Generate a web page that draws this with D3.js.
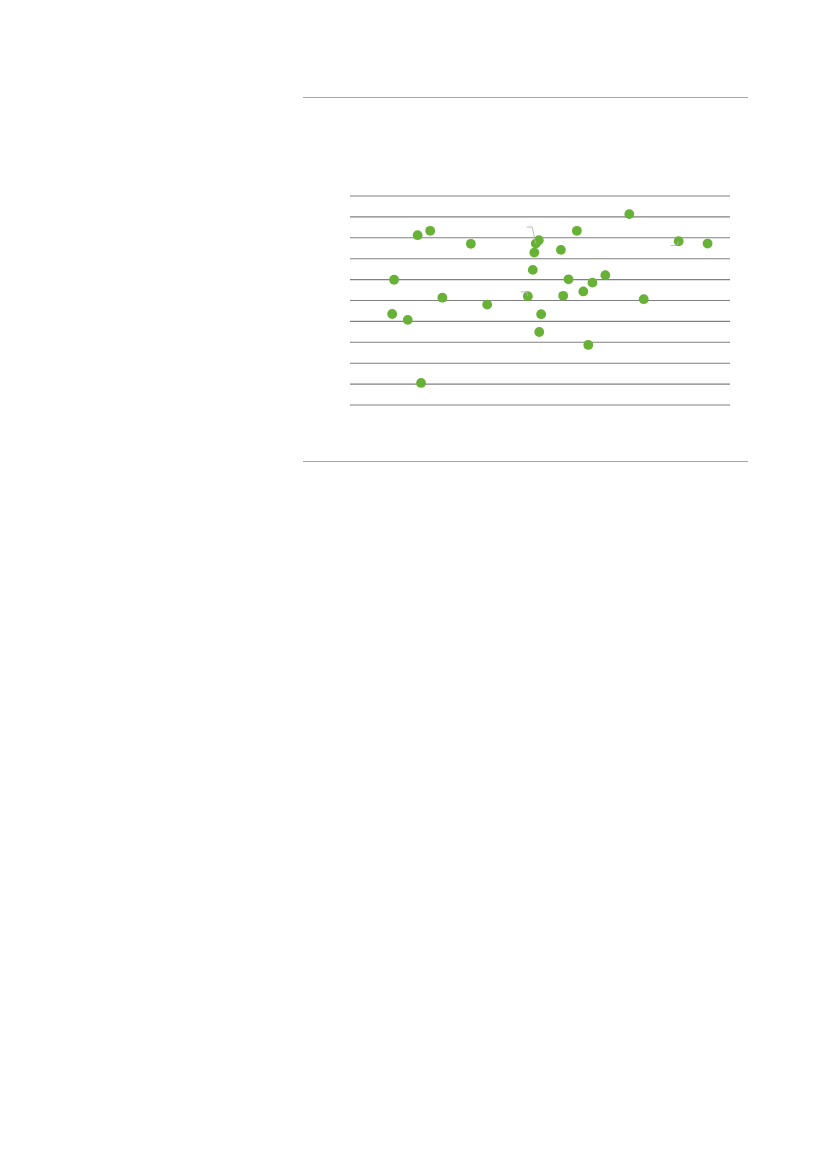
<!DOCTYPE html>
<html>
<head>
<meta charset="utf-8">
<script src="https://cdn.jsdelivr.net/npm/d3@7"></script>
<style>
  html, body { margin: 0; padding: 0; background: #fff; }
  svg { display: block; }
</style>
</head>
<body>
<svg id="chart" width="827" height="1169"></svg>
<script>
  // data (x: 0-100, y: 0-10)
  const xValues = [17.8, 21.1, 31.8, 11.6, 24.3, 36.1, 11.1, 15.2, 18.7, 48.9,
    49.7, 48.5, 48.1, 46.8, 50.3, 49.8, 59.7, 55.5, 73.5, 57.5,
    67.2, 63.8, 61.4, 56.1, 77.3, 62.7, 86.5, 94.1]
  const yValues = [8.10, 8.31, 7.69, 5.97, 5.11, 4.78, 4.33, 4.05, 1.03, 7.70,
    7.86, 7.27, 6.44, 5.18, 4.32, 3.47, 8.31, 7.40, 9.11, 5.99,
    6.19, 5.83, 5.41, 5.20, 5.04, 2.85, 7.81, 7.70]
  const yTicks = [0, 1, 2, 3, 4, 5, 6, 7, 8, 9, 10]
  // points that carry a leader line to a (hidden) label
  const leaderPoints = [9, 13, 26]

  // layout
  const frameLeft = 303
  const frameRight = 748
  const frameTop = 97.5
  const frameBottom = 461.5
  const plotLeft = 350
  const plotRight = 730
  const plotTop = 195.5
  const plotBottom = 404.5
  const dotRadius = 4.9
  const green = '#67b136'

  const svg = d3.select('#chart')

  const x = d3.scaleLinear().domain([0, 100]).range([plotLeft, plotRight])
  const y = d3.scaleLinear().domain([0, 10]).range([plotBottom, plotTop])

  // frame rules
  svg.selectAll('line.rule')
    .data([frameTop, frameBottom])
    .join('line')
    .attr('class', 'rule')
    .attr('x1', frameLeft)
    .attr('x2', frameRight)
    .attr('y1', d => d)
    .attr('y2', d => d)
    .style('stroke', '#a6a6a6')
    .style('stroke-width', 1)

  // horizontal grid from the y axis
  const yAxis = d3.axisLeft(y)
    .tickValues(yTicks)
    .tickSize(-(plotRight - plotLeft))
    .tickFormat('')
  const gAxis = svg.append('g')
    .attr('transform', `translate(${plotLeft},0)`)
    .call(yAxis)
  gAxis.select('.domain').remove()
  gAxis.selectAll('.tick line')
    .style('stroke', '#808080')
    .style('stroke-width', 1.1)

  const points = xValues.map((v, i) => ({ x: v, y: yValues[i] }))

  svg.append('g').selectAll('circle')
    .data(points)
    .join('circle')
    .attr('cx', d => x(d.x))
    .attr('cy', d => y(d.y))
    .attr('r', dotRadius)
    .style('fill', green)

  // leader lines: elbow offsets relative to the dot
  const elbows = [
    [[-9.3, -16.6], [-3.7, -16.6]],
    [[-7, -4.3], [-1.3, -4.3]],
    [[-8, 4.3], [-2, 4.3]]
  ]
  svg.append('g').selectAll('path')
    .data(leaderPoints)
    .join('path')
    .attr('d', (d, i) => {
      const cx = x(points[d].x)
      const cy = y(points[d].y)
      const e = elbows[i]
      return `M${cx + e[0][0]},${cy + e[0][1]}L${cx + e[1][0]},${cy + e[1][1]}L${cx},${cy}`
    })
    .style('fill', 'none')
    .style('stroke', '#b3b3b3')
    .style('stroke-width', 0.9)
</script>
</body>
</html>
